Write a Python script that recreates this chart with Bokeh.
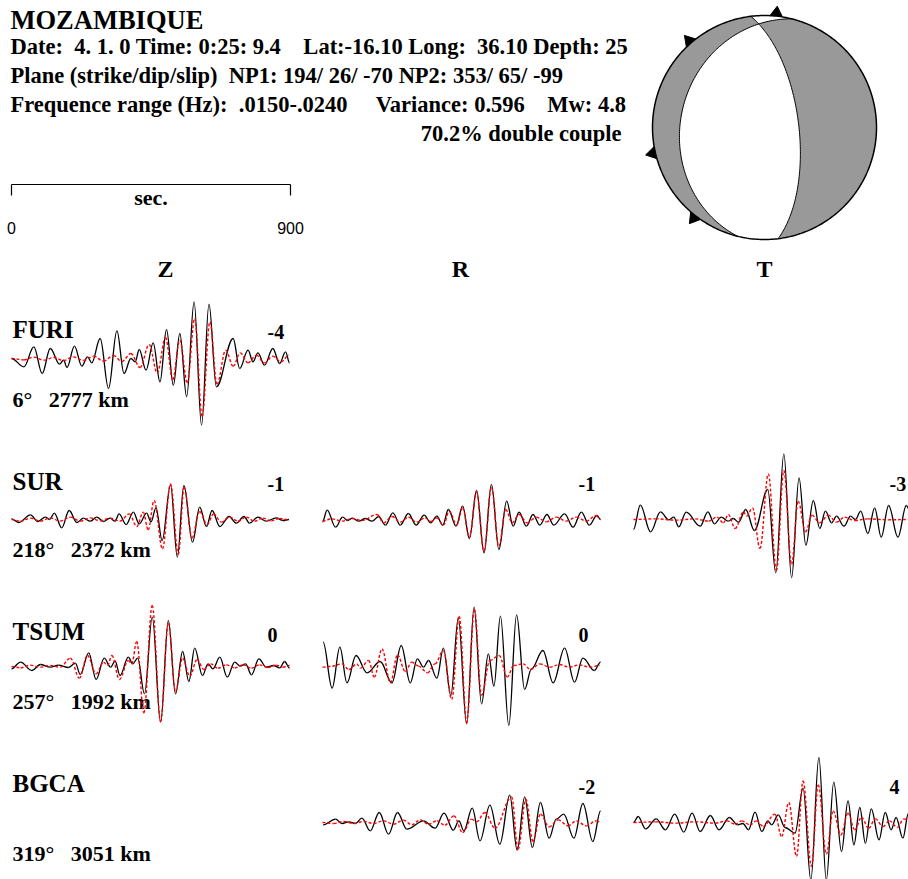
import re
import numpy as np
from bokeh.plotting import figure
from bokeh.models import Range1d
from bokeh.core.properties import value
from bokeh.embed import file_html
from bokeh.resources import INLINE

# ---------------- data ----------------
EVENT = "MOZAMBIQUE"
HEADER_LINES = [
    "Date:  4. 1. 0 Time: 0:25: 9.4    Lat:-16.10 Long:  36.10 Depth: 25",
    "Plane (strike/dip/slip)  NP1: 194/ 26/ -70 NP2: 353/ 65/ -99",
    "Frequence range (Hz):  .0150-.0240     Variance: 0.596    Mw: 4.8",
]
DC_LABEL = "70.2% double couple"
NP1 = (194, 26, -70)   # strike, dip, slip
NP2 = (353, 65, -99)

STATIONS = ["FURI", "SUR", "TSUM", "BGCA"]
AZIMUTHS = [6, 218, 257, 319]
DISTANCES_KM = [2777, 2372, 1992, 3051]
COMPONENTS = ["Z", "R", "T"]
SCALE_SEC = [0, 900]

# panels: (station index, component index, time shift label)
PANELS = [(0, 0, "-4"), (1, 0, "-1"), (1, 1, "-1"), (1, 2, "-3"),
          (2, 0, "0"), (2, 1, "0"), (3, 1, "-2"), (3, 2, "4")]

# waveform extrema: time (s) and amplitude (arbitrary units); OBS = data (black), SYN = synthetic (red)
FURI_Z_OBS_T = [0, 40, 72, 99, 125, 155, 168, 179, 203, 227, 245, 259, 286, 313, 340, 363, 385, 399, 412, 434, 457, 479, 500, 522, 543, 565, 589, 613, 637, 661, 715, 736, 763, 779, 795, 816, 843, 865, 884, 897]
FURI_Z_OBS_A = [0, -25, 35, -45, 30, -17, -5, -27, 37, -23, 5, -13, 60, -90, 83, -45, 0, -10, 27, -35, 47, -70, 87, -80, 75, -115, 170, -200, 163, -85, 60, -30, 25, -10, 17, -20, 30, -15, 20, -13]
FURI_Z_SYN_T = [0, 40, 72, 104, 136, 168, 200, 232, 265, 297, 329, 356, 385, 415, 444, 470, 497, 520, 543, 567, 591, 615, 640, 663, 691, 715, 738, 763, 790, 816, 843, 870, 895]
FURI_Z_SYN_A = [0, -4, 4, -5, 3, -6, 5, -6, 7, -8, 9, -9, 15, -27, 42, -43, 63, -63, 55, -73, 120, -173, 110, -77, 25, -23, 17, -13, 10, -13, 7, -10, 10]

SUR_Z_OBS_T = [0, 24, 61, 85, 109, 123, 138, 162, 186, 211, 232, 254, 275, 297, 318, 334, 347, 370, 393, 412, 436, 450, 466, 486, 513, 535, 556, 584, 607, 629, 647, 672, 702, 725, 750, 768, 795, 822, 854, 875, 895]
SUR_Z_OBS_A = [2, -9, 14, -6, 7, 0, 19, -25, 27, -9, 4, -5, 7, -6, 4, -5, 17, -15, 22, -13, 19, -7, 35, -63, 104, -113, 102, -68, 37, -21, 27, -21, 9, -11, 9, -11, 7, -5, 5, -3, 0]
SUR_Z_SYN_T = [0, 29, 61, 93, 125, 157, 190, 222, 254, 286, 318, 350, 380, 404, 425, 441, 460, 487, 513, 538, 557, 582, 607, 631, 652, 677, 704, 731, 757, 784, 811, 838, 865, 895]
SUR_Z_SYN_A = [0, -5, 4, -5, 5, -5, 7, -5, 5, -4, 4, -5, 17, -21, 22, -31, 57, -88, 107, -105, 97, -55, 24, -15, 17, -8, 7, -5, 7, -5, 4, -4, 3, -1]

SUR_R_OBS_T = [0, 15, 42, 65, 81, 97, 117, 138, 160, 181, 203, 227, 251, 277, 302, 328, 349, 369, 388, 406, 431, 452, 474, 497, 521, 545, 569, 594, 615, 634, 658, 679, 701, 724, 746, 781, 808, 835, 861, 885, 897]
SUR_R_OBS_A = [-7, 28, -23, 7, -3, 4, -5, 3, -5, 9, -17, 20, -17, 18, -17, 13, -10, 10, -17, 30, -20, 40, -57, 87, -100, 105, -90, 55, -20, 22, -20, 15, -17, 15, -17, 17, -23, 22, -17, 12, 0]
SUR_R_SYN_T = [0, 31, 63, 95, 127, 176, 197, 224, 251, 277, 304, 331, 350, 369, 390, 409, 433, 452, 474, 497, 521, 545, 569, 591, 612, 634, 660, 690, 722, 754, 786, 819, 851, 883, 897]
SUR_R_SYN_A = [-5, 2, -5, 3, -3, 15, -10, 9, -8, 7, -8, 5, -6, 5, -17, 25, -17, 35, -53, 83, -95, 97, -80, 30, -10, 15, -10, 7, -7, 7, -5, 7, -5, 12, 0]

SUR_T_OBS_T = [0, 22, 55, 87, 114, 130, 146, 170, 215, 240, 261, 283, 306, 322, 339, 362, 390, 433, 459, 485, 510, 534, 556, 580, 601, 619, 639, 655, 679, 700, 716, 733, 756, 778, 799, 823, 853, 880, 900]
SUR_T_OBS_A = [-30, 43, -37, 23, -1, 7, -22, 22, -20, 23, -13, 7, -5, 3, -8, 30, -33, 90, -160, 197, -175, 125, -77, 57, -27, 25, -10, 10, -20, 10, 0, 25, -42, 35, -53, 42, -53, 42, 5]
SUR_T_SYN_T = [0, 71, 135, 199, 242, 269, 290, 306, 328, 355, 365, 384, 408, 435, 461, 485, 510, 531, 555, 576, 601, 628, 655, 681, 714, 756, 821, 900]
SUR_T_SYN_A = [0, 2, -2, 2, -5, 7, -10, 15, -27, 23, 10, 35, -87, 137, -153, 147, -135, 55, -37, 13, -10, 13, -8, 7, -3, 2, -1, 0]

TSUM_Z_OBS_T = [0, 29, 66, 93, 125, 152, 184, 206, 222, 249, 273, 299, 320, 334, 350, 377, 391, 407, 429, 454, 481, 506, 529, 552, 572, 591, 616, 634, 650, 672, 696, 720, 738, 755, 774, 798, 822, 845, 865, 881, 897]
TSUM_Z_OBS_A = [-7, 13, -12, 6, -2, 4, -3, 10, -24, 41, -39, 25, -2, 17, -27, 28, 8, 25, -82, 148, -167, 138, -82, 45, -45, 55, -27, 8, -7, 28, -32, 13, 1, 8, -25, 23, -2, 3, -4, 15, -5]
TSUM_Z_SYN_T = [0, 29, 61, 93, 125, 157, 190, 219, 245, 273, 297, 310, 324, 348, 377, 388, 404, 427, 454, 481, 506, 529, 552, 575, 599, 620, 642, 666, 693, 720, 747, 774, 800, 827, 854, 875, 897]
TSUM_Z_SYN_A = [0, -4, 4, -2, 3, -2, 25, -35, 33, -22, 13, 3, 33, -39, 18, 8, 75, -139, 183, -165, 131, -75, 25, -29, 21, -9, 8, -5, 5, -4, 5, -5, 5, -3, 4, -2, 3]

TSUM_R_OBS_T = [2, 31, 56, 79, 108, 144, 186, 224, 254, 283, 306, 326, 342, 369, 390, 414, 438, 465, 489, 513, 535, 553, 574, 601, 626, 652, 674, 711, 744, 781, 813, 840, 877, 897]
TSUM_R_OBS_A = [73, -65, 58, -49, 33, -19, 15, -49, 63, -49, 23, -2, 18, -35, 55, -87, 145, -172, 178, -112, 38, -59, 151, -177, 155, -69, -7, 48, -49, 55, -47, 25, -12, 13]
TSUM_R_SYN_T = [0, 31, 63, 85, 111, 122, 149, 167, 192, 219, 242, 267, 288, 310, 339, 363, 390, 417, 441, 465, 490, 513, 540, 570, 596, 617, 647, 671, 701, 733, 765, 797, 829, 861, 894]
TSUM_R_SYN_A = [-2, 1, 8, -9, 8, -5, 18, -32, 53, -49, 35, -15, 13, 1, -19, 8, 48, -99, 151, -169, 171, -87, 18, 33, -32, 3, 8, -9, 8, -2, 6, -2, 5, -2, 3]

BGCA_R_OBS_T = [2, 42, 63, 85, 106, 127, 154, 183, 213, 242, 272, 326, 363, 392, 422, 440, 456, 483, 508, 540, 572, 604, 628, 652, 677, 703, 731, 754, 778, 811, 840, 872, 897]
BGCA_R_OBS_A = [-7, 10, -3, 2, -3, 13, -25, 30, -35, 30, -20, 5, -17, 28, -23, 5, -25, 43, -55, 52, -65, 82, -83, 77, -75, 60, -47, 10, 25, -47, 57, -57, 35]
BGCA_R_SYN_T = [0, 36, 69, 101, 133, 165, 197, 229, 261, 288, 315, 342, 369, 395, 424, 452, 481, 497, 524, 556, 610, 631, 656, 679, 703, 731, 760, 792, 819, 851, 883, 897]
BGCA_R_SYN_A = [0, -3, 3, -3, 3, -3, 5, -5, 7, -7, 8, -5, 5, -8, 20, -30, 10, 2, 30, -17, 77, -80, 70, -57, 25, -13, 8, -10, 5, -10, 5, 0]

BGCA_T_OBS_T = [0, 15, 39, 73, 103, 133, 162, 189, 215, 248, 276, 309, 336, 353, 371, 392, 414, 433, 446, 467, 489, 521, 547, 572, 598, 622, 646, 671, 692, 711, 730, 748, 767, 792, 812, 831, 847, 869, 887, 900]
BGCA_T_OBS_A = [0, 18, -19, 11, -22, 25, -29, 28, -27, 21, -22, 15, -7, -3, -22, 31, -27, 5, -7, 23, -15, -32, 103, -172, 195, -172, 121, -87, 65, -67, 45, -62, 41, -52, 30, -22, 15, -47, 28, 13]
BGCA_T_SYN_T = [0, 71, 135, 199, 264, 301, 328, 349, 376, 397, 419, 456, 478, 501, 526, 547, 574, 596, 622, 644, 669, 692, 714, 735, 759, 780, 805, 826, 851, 872, 900]
BGCA_T_SYN_A = [0, 2, -2, 2, -2, 5, -5, 5, -7, 5, -12, 25, -42, 60, -102, 125, -132, 113, -95, 35, -37, 28, -22, 15, -17, 11, -12, 5, -15, 11, -2]

TRACES = {
    (0, 0): (FURI_Z_OBS_T, FURI_Z_OBS_A, FURI_Z_SYN_T, FURI_Z_SYN_A),
    (1, 0): (SUR_Z_OBS_T, SUR_Z_OBS_A, SUR_Z_SYN_T, SUR_Z_SYN_A),
    (1, 1): (SUR_R_OBS_T, SUR_R_OBS_A, SUR_R_SYN_T, SUR_R_SYN_A),
    (1, 2): (SUR_T_OBS_T, SUR_T_OBS_A, SUR_T_SYN_T, SUR_T_SYN_A),
    (2, 0): (TSUM_Z_OBS_T, TSUM_Z_OBS_A, TSUM_Z_SYN_T, TSUM_Z_SYN_A),
    (2, 1): (TSUM_R_OBS_T, TSUM_R_OBS_A, TSUM_R_SYN_T, TSUM_R_SYN_A),
    (3, 1): (BGCA_R_OBS_T, BGCA_R_OBS_A, BGCA_R_SYN_T, BGCA_R_SYN_A),
    (3, 2): (BGCA_T_OBS_T, BGCA_T_OBS_A, BGCA_T_SYN_T, BGCA_T_SYN_A),
}

# ---------------- layout ----------------
W, H = 908, 879
COL_X0 = [11, 322, 633]
ROW_BASE = [358, 519, 666, 822]
PX_PER_SEC = 279.0 / 900.0
GAIN = 1.0 / 3.0
TY = -6                      # text baseline correction
NAME_Y = [335, 487, 637, 789]
DIST_Y = [405, 555, 707, 859]
SHIFT_DY = [-21, -30, -26, -30]
HEAD_X = [165, 460, 764]
BB_CX, BB_CY, BB_R = 764.0, 127.0, 112.0
K = 0.363

SERIF = value("Liberation Serif")
SANS = value("Liberation Sans")


def keep_spaces(s):
    return re.sub(r" {2,}", lambda m: "\u00a0" * len(m.group()), s)


p = figure(width=W, height=H, x_range=Range1d(0, W), y_range=Range1d(H, 0),
           output_backend="svg", toolbar_location=None, x_axis_type=None, y_axis_type=None,
           min_border=0, title=None)
p.outline_line_color = None
p.background_fill_color = "white"
p.border_fill_color = "white"


def txt(xs, ys, texts, size, font=SERIF, bold=True, align="left"):
    p.text(x=xs, y=[y + TY for y in ys], text=[keep_spaces(t) for t in texts], text_font=font,
           text_font_size=value(size), text_font_style="bold" if bold else "normal",
           text_align=align, text_baseline="alphabetic", text_color="black")


# header
txt([10], [25], [EVENT], "26.5px")
txt([10, 10, 10], [52, 81, 110], HEADER_LINES, "22.5px")
txt([621], [139], [DC_LABEL], "22.5px", align="right")

# time scale bar
sx = [COL_X0[0] + s * PX_PER_SEC for s in SCALE_SEC]
p.multi_line(xs=[[sx[0], sx[1]], [sx[0], sx[0]], [sx[1], sx[1]]],
             ys=[[184, 184], [184, 195], [184, 195]], line_color="black", line_width=1.2)
txt([(sx[0] + sx[1]) / 2], [203], ["sec."], "22px", align="center")
txt(sx, [233, 233], [str(s) for s in SCALE_SEC], "16px", font=SANS, bold=False, align="center")

# component headers
txt(HEAD_X, [274] * 3, COMPONENTS, "24px", align="center")

# station labels
txt([12] * 4, NAME_Y, STATIONS, "25px")
txt([12] * 4, DIST_Y, ["%d\u00b0   %d km" % (a, d) for a, d in zip(AZIMUTHS, DISTANCES_KM)], "22px")


def draw(t, a, x0, base, color, dash, width):
    xs = x0 + np.asarray(t, float) * PX_PER_SEC
    ys = base - np.asarray(a, float) * GAIN
    dx = xs[1:] - xs[:-1]
    p.bezier(x0=xs[:-1], y0=ys[:-1], x1=xs[1:], y1=ys[1:],
             cx0=xs[:-1] + K * dx, cy0=ys[:-1], cx1=xs[1:] - K * dx, cy1=ys[1:],
             line_color=color, line_width=width, line_dash=dash)


for si, ci, shift in PANELS:
    ot, oa, st, sa = TRACES[(si, ci)]
    x0 = COL_X0[ci]
    base = ROW_BASE[si]
    draw(ot, oa, x0, base, "black", "solid", 1.3)
    draw(st, sa, x0, base, "#ff0000", "3 2", 1.4)
    txt([x0 + 256], [base + SHIFT_DY[si]], [shift], "20px")

# ---------------- beachball (lower hemisphere, equal area) ----------------
def proj(v):
    x, y, z = v
    k = BB_R / np.sqrt(1.0 + z)
    return BB_CX + k * x, BB_CY - k * y


def rim(az0, az1, n=90):
    a = np.radians(np.linspace(az0, az1, n))
    return BB_CX + BB_R * np.sin(a), BB_CY - BB_R * np.cos(a)


def plane_vectors(strike, dip):
    f, d = np.radians(strike), np.radians(dip)
    s = np.array([np.sin(f), np.cos(f), 0.0])
    dv = np.array([np.cos(d) * np.cos(f), -np.cos(d) * np.sin(f), np.sin(d)])
    n = np.array([-np.sin(d) * np.cos(f), np.sin(d) * np.sin(f), np.cos(d)])
    return s, dv, n


def arc(s, dv, t0, t1, n=150):
    t = np.linspace(t0, t1, n)
    v = np.outer(np.cos(t), s) + np.outer(np.sin(t), dv)
    return proj(v.T)


s1, d1, n1 = plane_vectors(NP1[0], NP1[1])
s2, d2, n2 = plane_vectors(NP2[0], NP2[1])
B = np.cross(n1, n2)
if B[2] < 0:
    B = -B
tb1 = np.arctan2(B @ d1, B @ s1)
tb2 = np.arctan2(B @ d2, B @ s2)

# station markers on the rim
tri_x, tri_y = [], []
for az in AZIMUTHS:
    a = np.radians(az)
    u = np.array([np.sin(a), -np.cos(a)])
    w = np.array([np.cos(a), np.sin(a)])
    c = np.array([BB_CX, BB_CY])
    apex = c + (BB_R + 10) * u
    b1 = c + (BB_R - 3) * u + 8 * w
    b2 = c + (BB_R - 3) * u - 8 * w
    tri_x.append([apex[0], b1[0], b2[0]])
    tri_y.append([apex[1], b1[1], b2[1]])
p.patches(xs=tri_x, ys=tri_y, fill_color="black", line_color="black")

cx_, cy_ = rim(0, 360, 361)
p.patch(cx_, cy_, fill_color="#999999", line_color=None)

# dilatational (white) regions
a1x, a1y = arc(s1, d1, 0, tb1)
a2x, a2y = arc(s2, d2, tb2, np.pi)
rx, ry = rim(NP2[0] - 180, NP1[0])
p.patch(np.concatenate([a1x, a2x, rx]), np.concatenate([a1y, a2y, ry]),
        fill_color="white", line_color=None)
b1x, b1y = arc(s1, d1, tb1, np.pi)
r2x, r2y = rim(NP1[0] - 180, NP2[0] - 360)
b2x, b2y = arc(s2, d2, 0, tb2)
p.patch(np.concatenate([b1x, r2x, b2x]), np.concatenate([b1y, r2y, b2y]),
        fill_color="white", line_color=None)

# nodal planes and outline
l1x, l1y = arc(s1, d1, 0, np.pi)
l2x, l2y = arc(s2, d2, 0, np.pi)
p.multi_line(xs=[list(l1x), list(l2x)], ys=[list(l1y), list(l2y)], line_color="black", line_width=1.0)
p.line(cx_, cy_, line_color="black", line_width=1.5)

open("out.html", "w").write(file_html(p, INLINE))
